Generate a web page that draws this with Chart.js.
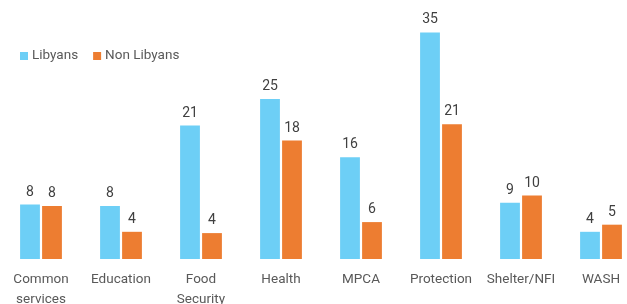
<!DOCTYPE html>
<html>
<head>
<meta charset="utf-8">
<script src="https://cdn.jsdelivr.net/npm/chart.js@4.4.1/dist/chart.umd.min.js"></script>
<style>
  html, body { margin: 0; padding: 0; overflow: hidden; background: #fff; }
  #wrap { width: 641px; height: 304px; }
</style>
</head>
<body>
<div id="wrap"><canvas id="myChart" width="641" height="304"></canvas></div>
<script>
const categories = [["Common", "services"], "Education", ["Food", "Security"], "Health", "MPCA", "Protection", "Shelter/NFI", "WASH"];
const libyans = [8.4, 8.2, 20.6, 24.7, 15.7, 35, 8.7, 4.2];
const nonLibyans = [8.2, 4.2, 4.0, 18.3, 5.7, 20.8, 9.8, 5.3];
const seriesNames = ["Libyans", "Non Libyans"];
const colors = ["#6DCFF6", "#ED7D31"];

const valueLabels = {
    id: 'valueLabels',
    afterDatasetsDraw(chart) {
        const ctx = chart.ctx;
        ctx.save();
        ctx.font = '14px Roboto';
        ctx.fillStyle = '#404040';
        ctx.textAlign = 'center';
        ctx.textBaseline = 'alphabetic';
        chart.data.datasets.forEach((ds, i) => {
            chart.getDatasetMeta(i).data.forEach((bar, j) => {
                ctx.fillText(Math.round(ds.data[j]), bar.x, bar.y - 9);
            });
        });
        ctx.restore();
    }
};

const topLegend = {
    id: 'topLegend',
    afterDraw(chart) {
        const ctx = chart.ctx;
        ctx.save();
        ctx.font = '13.5px Roboto';
        ctx.textBaseline = 'middle';
        let x = 20;
        seriesNames.forEach((name, i) => {
            ctx.fillStyle = colors[i];
            ctx.fillRect(x, 52, 8, 8);
            ctx.fillStyle = '#595959';
            ctx.fillText(name, x + 12, 56);
            x += 12 + ctx.measureText(name).width + 15;
        });
        ctx.restore();
    }
};

new Chart(document.getElementById("myChart"), {
    type: 'bar',
    data: {
        labels: categories,
        datasets: [
            { label: seriesNames[0], backgroundColor: colors[0], data: libyans },
            { label: seriesNames[1], backgroundColor: colors[1], data: nonLibyans }
        ]
    },
    options: {
        responsive: false,
        maintainAspectRatio: false,
        animation: false,
        categoryPercentage: 0.55,
        barPercentage: 0.9,
        layout: { padding: { left: 1, right: 0, top: 0, bottom: 0 } },
        plugins: {
            legend: { display: false },
            tooltip: { enabled: false }
        },
        scales: {
            x: {
                grid: { display: false },
                border: { display: false },
                ticks: {
                    color: '#595959',
                    font: { family: 'Roboto', size: 13.5, lineHeight: 1.45 },
                    padding: 3,
                    maxRotation: 0,
                    autoSkip: false
                },
                afterFit: s => { s.height = 45; }
            },
            y: {
                display: false,
                min: 0,
                max: 40
            }
        }
    },
    plugins: [valueLabels, topLegend]
});
</script>
</body>
</html>
